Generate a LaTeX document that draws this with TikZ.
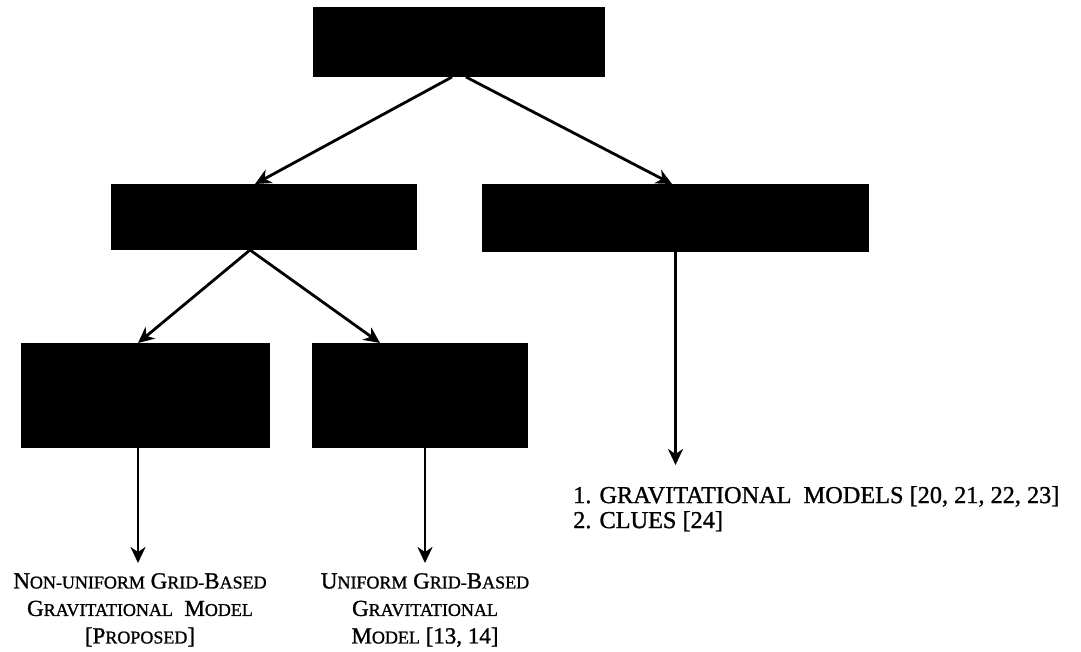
\documentclass[tikz,border=0pt]{standalone}
\usepackage{fontspec}
\setmainfont{Liberation Serif}[FakeBold=1.1]
\usetikzlibrary{arrows.meta}
% faked small capitals: smaller upper-case letters
\newcommand\smc[1]{{\fontsize{18}{27.5}\selectfont #1}}
\tikzset{
  blk/.style={fill=black, draw=none, inner sep=0pt, outer sep=0pt},
  arr/.style={line width=2.8pt, -{Stealth[length=16pt,width=15pt,inset=5pt]}},
  lbl/.style={font=\fontsize{23}{27.5}\selectfont, inner sep=0pt, align=center, anchor=north},
  lst/.style={font=\fontsize{24.3}{25}\selectfont, inner sep=0pt, align=left, anchor=north west}
}
\begin{document}
\begin{tikzpicture}[x=1pt, y=-1pt]
\useasboundingbox (0,0) rectangle (1081,651);

% black boxes of the tree
\node[blk, minimum width=292pt, minimum height=70pt]  (top) at (459,42) {};
\node[blk, minimum width=306pt, minimum height=66pt]  (ml)  at (264,217) {};
\node[blk, minimum width=387pt, minimum height=68pt]  (mr)  at (675.5,218) {};
\node[blk, minimum width=249pt, minimum height=105pt] (bl)  at (145.5,395.5) {};
\node[blk, minimum width=216pt, minimum height=105pt] (bm)  at (420,395.5) {};

% labels at the leaves
\node[lbl] (tl) at (140,573) {N\smc{ON-UNIFORM} G\smc{RID-}B\smc{ASED}\\
  G\smc{RAVITATIONAL}\ \ M\smc{ODEL}\\ {[}P\smc{ROPOSED}{]}};
\node[lbl] (tm) at (425,573) {U\smc{NIFORM} G\smc{RID-}B\smc{ASED}\\
  G\smc{RAVITATIONAL}\\ M\smc{ODEL} [13, 14]};
\node[lst] (tr) at (573,486) {1. GRAVITATIONAL\ \ MODELS [20, 21, 22, 23]\\
  2. CLUES [24]};

% free ends of the vertical arrows
\coordinate (eL) at (138,563);
\coordinate (eM) at (425,563);
\coordinate (eR) at (675.5,465);

% connectors
\draw[arr] ([xshift=-7pt]top.south) -- ([xshift=-9pt]ml.north);
\draw[arr] ([xshift=7pt]top.south) -- ([xshift=-3.5pt]mr.north);
\draw[arr] ([xshift=-14pt]ml.south) -- ([xshift=-7.5pt]bl.north);
\draw[arr] ([xshift=-14pt]ml.south) -- ([xshift=-40pt]bm.north);
\draw[arr] (mr.south) -- (eR);
\draw[arr] (bl.south -| eL) -- (eL);
\draw[arr] (bm.south -| eM) -- (eM);
\end{tikzpicture}
\end{document}
